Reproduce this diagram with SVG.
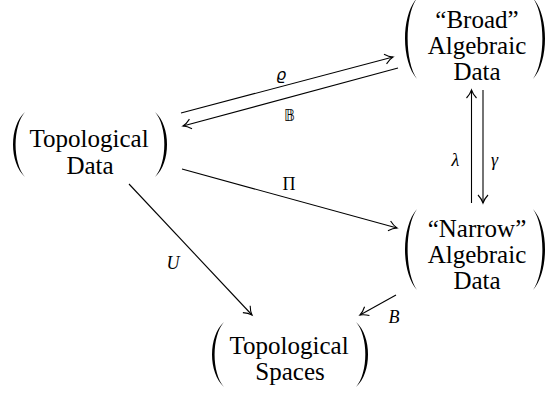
<svg xmlns="http://www.w3.org/2000/svg" width="545" height="394" viewBox="0 0 545 394" font-family="Times New Roman">
<g id="topdata" font-family="Times New Roman" font-size="25" fill="#000">
<path d="M25,112 C9,126.3 9,162.7 25,177 C12.5,162.7 12.5,126.3 25,112Z"/>
<path d="M155,112 C171,126.3 171,162.7 155,177 C167.5,162.7 167.5,126.3 155,112Z"/>
<text x="29.6" y="147">Topological</text>
<text x="66.4" y="174">Data</text>
</g>
<g id="broad" font-family="Times New Roman" font-size="25" fill="#000">
<path d="M417,-2 C401,15.8 401,61.2 417,79 C404.5,61.2 404.5,15.8 417,-2Z"/>
<path d="M533,-2 C549,15.8 549,61.2 533,79 C545.5,61.2 545.5,15.8 533,-2Z"/>
<text x="435.3" y="28">“Broad”</text>
<text x="427.7" y="54">Algebraic</text>
<text x="453.4" y="80">Data</text>
</g>
<g id="narrow" font-family="Times New Roman" font-size="25" fill="#000">
<path d="M417,209 C401,226.8 401,272.2 417,290 C404.5,272.2 404.5,226.8 417,209Z"/>
<path d="M533,209 C549,226.8 549,272.2 533,290 C545.5,272.2 545.5,226.8 533,209Z"/>
<text x="427.7" y="237">“Narrow”</text>
<text x="427.7" y="263">Algebraic</text>
<text x="453.4" y="289">Data</text>
</g>
<g id="topspaces" font-family="Times New Roman" font-size="25" fill="#000">
<path d="M224,322 C208,336.3 208,372.7 224,387 C211.5,372.7 211.5,336.3 224,322Z"/>
<path d="M356,322 C372,336.3 372,372.7 356,387 C368.5,372.7 368.5,336.3 356,322Z"/>
<text x="229.6" y="354">Topological</text>
<text x="255.3" y="380">Spaces</text>
</g>
<g id="connectors" stroke="#000" stroke-width="1.1" fill="none">
<line x1="181" y1="113" x2="393" y2="57"/>
<path d="M-8,-5 C-5,-2.2 -2.5,-0.8 0,0 C-2.5,0.8 -5,2.2 -8,5" transform="translate(393,57) rotate(-14.8)"/>
<line x1="398" y1="68" x2="183" y2="126"/>
<path d="M-8,-5 C-5,-2.2 -2.5,-0.8 0,0 C-2.5,0.8 -5,2.2 -8,5" transform="translate(183,126) rotate(164.9)"/>
<line x1="182" y1="169" x2="397" y2="228"/>
<path d="M-8,-5 C-5,-2.2 -2.5,-0.8 0,0 C-2.5,0.8 -5,2.2 -8,5" transform="translate(397,228) rotate(15.35)"/>
<line x1="129" y1="184" x2="252" y2="315"/>
<path d="M-8,-5 C-5,-2.2 -2.5,-0.8 0,0 C-2.5,0.8 -5,2.2 -8,5" transform="translate(252,315) rotate(46.8)"/>
<line x1="396" y1="295" x2="360" y2="315"/>
<path d="M-8,-5 C-5,-2.2 -2.5,-0.8 0,0 C-2.5,0.8 -5,2.2 -8,5" transform="translate(360,315) rotate(150.95)"/>
<line x1="471.5" y1="203" x2="471.5" y2="90"/>
<path d="M-8,-5 C-5,-2.2 -2.5,-0.8 0,0 C-2.5,0.8 -5,2.2 -8,5" transform="translate(471.5,90) rotate(-90)"/>
<line x1="483" y1="90" x2="483" y2="203"/>
<path d="M-8,-5 C-5,-2.2 -2.5,-0.8 0,0 C-2.5,0.8 -5,2.2 -8,5" transform="translate(483,203) rotate(90)"/>
</g>
<g id="labels" font-family="Times New Roman" font-size="18" fill="#000">
<text font-family="DejaVu Sans" font-style="italic" font-size="16" x="276" y="80">ϱ</text>
<text font-family="DejaVu Sans" font-size="15" x="284" y="121">𝔹</text>
<text x="282.5" y="190">Π</text>
<text font-style="italic" x="166.5" y="269">U</text>
<text font-style="italic" x="388.5" y="323">B</text>
<text font-style="italic" x="451.5" y="166">λ</text>
<text font-style="italic" x="491" y="166">γ</text>
</g>
</svg>
